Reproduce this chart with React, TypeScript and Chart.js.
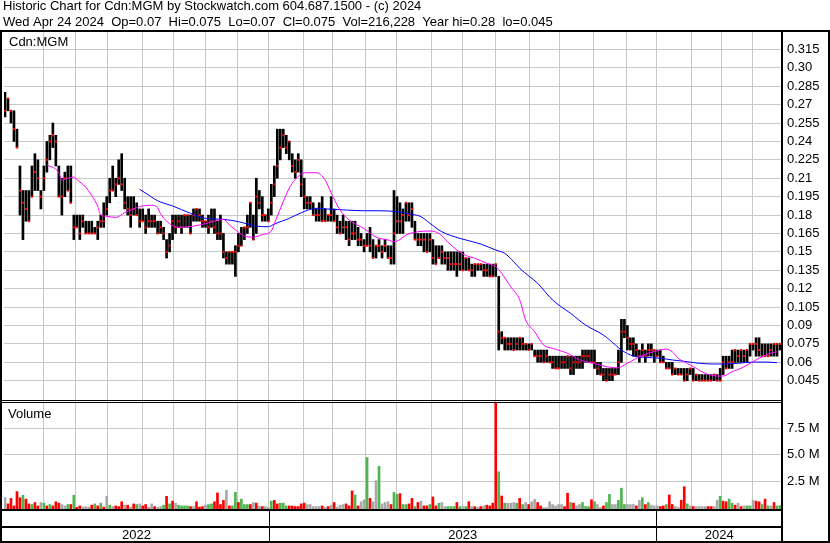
import React, { useEffect, useRef } from 'react';
import { Chart, registerables } from 'chart.js';

Chart.register(...registerables);

const TITLE = 'Historic Chart for Cdn:MGM by Stockwatch.com 604.687.1500 - (c) 2024';
const SUBTITLE = 'Wed Apr 24 2024  Op=0.07  Hi=0.075  Lo=0.07  Cl=0.075  Vol=216,228  Year hi=0.28  lo=0.045';
const SYMBOL = 'Cdn:MGM';
const VOL_TITLE = 'Volume';
const FONT = '"Liberation Sans", Arial, sans-serif';

// one bar per two trading days, late Apr 2022 .. 24 Apr 2024
const HIGH = [
  .28, .275, .265, .265, .25, .22, .20, .20, .20, .22,
  .23, .225, .20, .22, .24, .245, .255, .245, .22, .21,
  .215, .22, .22, .18, .18, .18, .18, .175, .175, .175,
  .17, .175, .18, .19, .195, .21, .22, .21, .225, .23,
  .21, .195, .195, .195, .19, .185, .185, .18, .185, .18,
  .18, .175, .175, .17, .16, .165, .18, .18, .18, .18,
  .18, .18, .18, .185, .185, .185, .18, .175, .18, .185,
  .185, .175, .18, .165, .15, .15, .15, .155, .165, .17,
  .17, .18, .19, .18, .21, .20, .195, .18, .185, .205,
  .22, .25, .25, .25, .245, .24, .23, .225, .23, .225,
  .21, .195, .195, .19, .185, .19, .195, .185, .18, .195,
  .185, .18, .175, .18, .175, .175, .175, .175, .17, .165,
  .16, .165, .17, .16, .155, .16, .155, .16, .155, .155,
  .20, .195, .19, .185, .19, .19, .19, .175, .165, .165,
  .165, .165, .165, .16, .155, .155, .155, .15, .15, .15,
  .15, .15, .15, .15, .145, .145, .14, .14, .14, .14,
  .14, .14, .14, .14, .14, .13, .085, .08, .08, .08,
  .08, .08, .08, .08, .075, .075, .075, .07, .07, .07,
  .07, .07, .065, .065, .065, .065, .065, .065, .065, .065,
  .065, .065, .065, .07, .07, .07, .07, .07, .06, .06,
  .055, .055, .055, .055, .055, .07, .095, .095, .09, .08,
  .08, .075, .07, .075, .07, .075, .075, .07, .07, .07,
  .065, .06, .06, .06, .055, .055, .055, .055, .055, .055,
  .055, .05, .05, .05, .05, .05, .05, .05, .05, .055,
  .065, .065, .065, .07, .07, .07, .07, .07, .07, .075,
  .075, .08, .08, .075, .075, .075, .075, .075, .075, .075,
];
const LOW = [
  .26, .265, .255, .24, .235, .18, .16, .175, .175, .195,
  .20, .20, .185, .20, .215, .225, .235, .22, .195, .18,
  .195, .20, .19, .16, .17, .16, .17, .165, .165, .165,
  .165, .16, .17, .17, .18, .19, .20, .195, .205, .20,
  .185, .18, .17, .18, .18, .17, .175, .165, .17, .17,
  .17, .165, .165, .16, .145, .15, .16, .165, .17, .165,
  .17, .17, .165, .175, .175, .175, .17, .17, .165, .17,
  .165, .16, .16, .145, .14, .14, .14, .13, .15, .155,
  .16, .165, .17, .16, .165, .185, .175, .175, .175, .18,
  .195, .21, .225, .235, .23, .225, .215, .21, .215, .195,
  .185, .185, .185, .18, .175, .175, .175, .175, .175, .175,
  .175, .165, .165, .165, .16, .155, .16, .16, .155, .155,
  .15, .155, .15, .145, .145, .15, .145, .15, .145, .14,
  .14, .165, .165, .165, .175, .175, .17, .16, .155, .155,
  .15, .15, .15, .14, .14, .145, .14, .14, .135, .135,
  .135, .13, .135, .135, .135, .135, .13, .13, .135, .135,
  .13, .13, .13, .13, .13, .07, .075, .07, .07, .07,
  .07, .07, .07, .07, .07, .07, .07, .065, .06, .06,
  .06, .06, .06, .055, .055, .055, .055, .055, .055, .05,
  .05, .055, .055, .055, .06, .06, .06, .055, .05, .05,
  .045, .045, .045, .045, .05, .05, .06, .08, .07, .07,
  .065, .065, .06, .065, .06, .065, .065, .06, .065, .06,
  .06, .055, .055, .05, .05, .05, .05, .045, .045, .05,
  .045, .045, .045, .045, .045, .045, .045, .045, .045, .045,
  .05, .055, .055, .055, .06, .06, .06, .06, .06, .065,
  .07, .065, .065, .065, .065, .065, .065, .065, .065, .07,
];
const CLOSE = [
  .265, .275, .265, .25, .235, .20, .19, .185, .175, .195,
  .215, .21, .195, .21, .225, .24, .245, .24, .195, .195,
  .21, .20, .19, .17, .17, .165, .175, .165, .165, .165,
  .165, .17, .175, .175, .185, .20, .20, .205, .21, .205,
  .19, .185, .18, .185, .18, .175, .175, .17, .175, .175,
  .175, .165, .17, .165, .15, .155, .175, .17, .175, .17,
  .18, .18, .165, .18, .185, .18, .175, .175, .17, .175,
  .17, .165, .165, .15, .145, .15, .15, .15, .155, .155,
  .17, .17, .19, .16, .195, .19, .18, .18, .175, .19,
  .205, .22, .235, .245, .235, .24, .22, .215, .225, .205,
  .195, .19, .19, .18, .18, .18, .175, .175, .18, .18,
  .175, .17, .165, .17, .17, .16, .165, .165, .16, .16,
  .155, .155, .155, .145, .155, .155, .15, .155, .145, .145,
  .165, .175, .175, .18, .19, .18, .185, .16, .16, .16,
  .16, .15, .16, .145, .14, .145, .15, .145, .145, .14,
  .14, .14, .14, .135, .145, .135, .135, .14, .14, .14,
  .135, .135, .13, .13, .14, .085, .08, .08, .075, .075,
  .07, .075, .08, .075, .075, .07, .075, .065, .065, .065,
  .06, .065, .06, .06, .055, .055, .06, .06, .065, .055,
  .06, .06, .06, .065, .065, .065, .06, .06, .055, .05,
  .05, .045, .05, .05, .05, .06, .085, .085, .08, .075,
  .075, .07, .065, .07, .065, .07, .07, .07, .065, .06,
  .06, .055, .055, .05, .055, .05, .05, .045, .05, .055,
  .045, .05, .045, .045, .045, .045, .045, .05, .045, .045,
  .06, .055, .06, .06, .07, .065, .07, .065, .07, .075,
  .075, .075, .07, .065, .065, .065, .07, .075, .075, .075,
];
// volume in millions of shares
const VOLUME = [
  .96, .38, .9, .19, 1.54, .96, 1.19, .83, .38, .32,
  .51, .19, .51, .45, .19, .32, .19, .58, .45, .32,
  .19, .32, .32, 1.19, .06, .19, .1, .13, .08, .26,
  .38, .19, .45, .08, 1.09, .26, .13, .19, .13, .58,
  .26, .26, .08, .38, .32, .38, .19, .32, .08, .38,
  .13, .05, .13, .26, 1.09, .38, .64, .45, .26, .19,
  .19, .19, .13, .13, .58, .08, .13, .26, .32, .38,
  .58, 1.41, .32, .71, 1.67, .19, .19, 1.47, .51, .83,
  .32, .32, .32, .51, .45, .19, .13, .13, .05, .64,
  .71, .38, .45, .45, .19, .19, .19, .13, .13, .38,
  .45, .32, .32, .13, .13, .13, .19, .05, .13, .26,
  .51, .08, .26, .32, .38, .19, 1.6, 1.22, .19, .58,
  .77, 4.74, .9, .58, 2.56, 3.91, .38, .51, .58, .32,
  1.47, 1.28, 1.35, .32, .32, .38, .9, .13, .51, .64,
  .19, .19, .32, 1.03, .19, .45, .51, .13, .13, .13,
  .13, .51, .13, .13, .13, .58, .13, .13, .05, .13,
  .19, .26, .19, .45, 9.94, 3.4, 1.12, .45, .45, .45,
  .51, .45, .9, .32, .51, .32, .58, .8, .51, .19,
  .03, .03, .58, .32, .19, .32, .32, .13, 1.38, .51,
  .45, .19, .32, .51, .13, .13, .77, .58, .32, .05,
  .19, .51, 1.28, .32, .32, .71, 1.86, .32, .32, .32,
  .32, .19, .71, .96, .32, .51, .26, .19, .19, .13,
  .19, .32, 1.22, .32, .13, .05, .71, 2.0, .38, .19,
  .13, .13, .13, .13, .13, .13, .13, .13, .71, 1.09,
  .64, .58, .83, .45, .26, .45, .13, .19, .19, .19,
  .71, .64, .58, .32, .83, .19, .19, .51, .19, .22,
];
// r = down day, g = up day, n = unchanged
const VOL_DIR = (
  'nrrrrrgrrg' + 'rrngrgrrrn' + 'ngrgrrnnnr' + 'grgrngnrrr' + 'nrnrgnrrnn' +
  'rnngrgrngg' + 'ggrnrrrngg' + 'rrrrnrggrg' + 'ggrnrnrnng' + 'rrgggrrrrr' +
  'rnnnnnrnrn' + 'rnnnrrrgrn' + 'ngrnngnnnr' + 'ggrggrrgrn' + 'rrgrrgnngg' +
  'grgngrnrnr' + 'nrrrrgrgnn' + 'ngrgnrnnrr' + 'nnnnnnnrrg' + 'rnngggrgnn' +
  'rggnngggnn' + 'nrngrgnnnr' + 'rgrrnnrrgn' + 'rnnnnrrnng' + 'rrggrnrngg' +
  'nrrgrgnrgg'
).split('');

// short moving average (magenta), sampled at bar positions
const MA1_AT = [14, 18, 19, 21, 23, 24, 27, 29, 31, 32, 34, 37, 40, 43, 45, 49, 51, 52, 55, 58, 63, 67, 70, 73, 75, 78, 80, 83, 86, 89, 90.5, 93, 95, 97, 99, 101, 104, 107, 109, 112, 115, 120, 124, 128, 130, 132, 134, 138, 142, 145, 148, 151, 154, 157, 161, 164, 166, 169, 172, 174, 177, 180, 183, 188, 192, 197, 201, 205, 207, 209, 212, 215, 219, 221, 223, 225, 228, 231, 234, 238, 240, 243, 246, 249, 252, 255, 258];
const MA1_VAL = [.221, .2145, .2086, .21, .211, .209, .2026, .196, .187, .18, .179, .178, .182, .185, .187, .188, .186, .181, .173, .17, .171, .173, .175, .1765, .172, .166, .163, .162, .164, .167, .176, .191, .202, .209, .2135, .2145, .2145, .2086, .198, .184, .176, .169, .162, .1597, .1583, .16, .1637, .1664, .167, .165, .158, .1515, .147, .1448, .1407, .138, .1325, .1216, .111, .0945, .085, .074, .0714, .0673, .062, .059, .0564, .0555, .058, .0605, .0646, .0673, .07, .0708, .0686, .0633, .0592, .0551, .051, .0488, .0488, .0523, .0551, .0592, .0633, .0668, .0686];
// long moving average (blue)
const MA2_AT = [45, 48, 50, 52, 56, 62, 67, 73, 78, 84, 88, 90, 95, 99, 104, 109, 114, 120, 125, 131, 136, 139, 142, 146, 152, 159, 164, 167, 170, 172, 178, 183, 189, 194, 200, 204, 206, 210, 214, 219, 223, 228, 232, 237, 241, 245, 250, 254, 258];
const MA2_VAL = [.201, .1963, .193, .1906, .1874, .1814, .1773, .1765, .1746, .171, .1705, .1727, .1773, .1819, .1855, .1847, .1841, .1835, .1835, .1827, .1806, .1787, .1733, .1664, .161, .1564, .1515, .1488, .142, .1366, .1244, .1108, .0999, .0904, .0822, .0741, .07, .0651, .064, .0633, .0619, .0605, .0592, .0586, .0586, .0592, .0602, .0602, .0597];

// month boundaries, in bar positions
const MONTH_STARTS = [12.9, 23.7, 34.1, 45.8, 56.3, 67.1, 77.8, 88.2, 99.8, 109.6, 120.5, 131.0, 142.6, 152.9, 164.0, 175.4, 185.3, 196.6, 207.7, 217.7, 229.4, 239.6, 249.9];
const YEAR_STARTS = [88.2, 217.7];
const YEARS = ['2022', '2023', '2024'];

const PRICE_TICKS = [0.045, 0.06, 0.075, 0.09, 0.105, 0.12, 0.135, 0.15, 0.165, 0.18, 0.195, 0.21, 0.225, 0.24, 0.255, 0.27, 0.285, 0.30, 0.315];
const PRICE_LABELS = ['0.045', '0.06', '0.075', '0.09', '0.105', '0.12', '0.135', '0.15', '0.165', '0.18', '0.195', '0.21', '0.225', '0.24', '0.255', '0.27', '0.285', '0.30', '0.315'];
const VOL_TICKS = [2.5, 5, 7.5];
const VOL_LABELS = ['2.5 M', '5.0 M', '7.5 M'];

const DIR_COLORS: Record<string, string> = { r: '#ff0000', g: '#50b450', n: '#a8a8a8' };
const GRID = '#c8c8c8';

const framePlugin = {
  id: 'frame',
  beforeDraw(chart: any) {
    const { ctx, width, height } = chart;
    ctx.save();
    ctx.fillStyle = '#ffffff';
    ctx.fillRect(0, 0, width, height);
    ctx.restore();
  },
  afterDraw(chart: any) {
    const { ctx, width, height, chartArea } = chart;
    const xs = chart.scales.x;
    const yv = chart.scales.yv;
    const r = Math.round(chartArea.right) - 1;
    const b = chartArea.bottom;
    ctx.save();
    ctx.fillStyle = '#000';
    ctx.font = `13px ${FONT}`;
    ctx.textAlign = 'left';
    ctx.textBaseline = 'alphabetic';
    ctx.fillText(TITLE, 3, 10);
    ctx.fillText(SUBTITLE, 3, 26);
    // header rule and outer frame
    ctx.fillRect(0, 30, width, 2);
    ctx.fillRect(0, 30, 2, height - 30);
    ctx.fillRect(width - 2, 30, 2, height - 30);
    ctx.fillRect(0, height - 2, width, 2);
    // panel separator (double line)
    const sep = Math.round(yv.top);
    ctx.fillRect(0, sep - 1, r, 1);
    ctx.fillRect(0, sep + 1, r, 1);
    // axis line
    ctx.fillRect(r, 30, 2, height - 30);
    // date band
    ctx.fillRect(0, b, r, 2);
    ctx.fillRect(0, b + 17, r, 2);
    YEAR_STARTS.forEach((v) => {
      const px = Math.round(xs.getPixelForValue(v));
      ctx.fillRect(px, b, 1, height - b);
    });
    const bounds = [xs.min, ...YEAR_STARTS, xs.max];
    ctx.textAlign = 'center';
    YEARS.forEach((label, k) => {
      const a = xs.getPixelForValue(bounds[k]);
      const c = xs.getPixelForValue(bounds[k + 1]);
      ctx.fillText(label, (a + c) / 2, height - 4);
    });
    ctx.textAlign = 'left';
    ctx.fillText(SYMBOL, 9, chartArea.top + 14);
    ctx.fillText(VOL_TITLE, 8, sep + 17);
    ctx.restore();
  },
};

export default function App() {
  const ref = useRef<HTMLCanvasElement | null>(null);
  useEffect(() => {
    const canvas = ref.current;
    if (!canvas) return;
    const idx = HIGH.map((_, i) => i);
    const chart = new Chart(canvas, {
      type: 'bar',
      data: {
        datasets: [
          {
            type: 'line',
            data: MA1_AT.map((x, k) => ({ x, y: MA1_VAL[k] })),
            yAxisID: 'y',
            borderColor: '#ff00ff',
            borderWidth: 1,
            pointRadius: 0,
            cubicInterpolationMode: 'monotone',
          } as any,
          {
            type: 'line',
            data: MA2_AT.map((x, k) => ({ x, y: MA2_VAL[k] })),
            yAxisID: 'y',
            borderColor: '#0000ff',
            borderWidth: 1,
            pointRadius: 0,
            cubicInterpolationMode: 'monotone',
          } as any,
          {
            type: 'line',
            data: idx.map((i) => ({ x: i, y: CLOSE[i] })),
            yAxisID: 'y',
            showLine: false,
            pointStyle: 'rect',
            pointRadius: 1.42,
            pointBorderWidth: 0,
            pointBackgroundColor: '#ff0000',
            borderColor: '#ff0000',
          } as any,
          {
            type: 'bar',
            data: idx.map((i) => ({ x: i, y: [LOW[i], HIGH[i]] })),
            yAxisID: 'y',
            backgroundColor: '#000000',
            barThickness: 2,
            grouped: false,
            borderWidth: 0,
          } as any,
          {
            type: 'bar',
            data: idx.map((i) => ({ x: i, y: VOLUME[i] })),
            yAxisID: 'yv',
            backgroundColor: VOL_DIR.map((d) => DIR_COLORS[d]),
            barThickness: 2,
            grouped: false,
            borderWidth: 0,
            base: -0.1,
          } as any,
        ],
      },
      options: {
        animation: false,
        responsive: false,
        devicePixelRatio: 1,
        events: [],
        layout: { padding: { top: 32, left: 2, right: 0, bottom: 34 } },
        plugins: { legend: { display: false }, tooltip: { enabled: false } },
        scales: {
          x: {
            type: 'linear',
            min: -1 / 3,
            max: HIGH.length - 1 / 3,
            offset: false,
            ticks: { display: false },
            grid: { color: GRID, drawTicks: false, offset: false },
            border: { display: false },
            afterBuildTicks: (s: any) => { s.ticks = MONTH_STARTS.map((v) => ({ value: v })); },
            afterFit: (s: any) => { s.height = 0; },
          },
          y: {
            type: 'linear',
            position: 'right',
            stack: 'panels',
            stackWeight: 369,
            min: 0.02846,
            max: 0.32919,
            ticks: {
              autoSkip: false,
              color: '#000',
              padding: 5,
              font: { size: 13, family: FONT },
              callback: (_v: any, i: number) => PRICE_LABELS[i],
            },
            grid: { color: GRID, drawTicks: false },
            border: { display: false },
            afterBuildTicks: (s: any) => { s.ticks = PRICE_TICKS.map((v) => ({ value: v })); },
            afterFit: (s: any) => { s.width = 48; },
          },
          yv: {
            type: 'linear',
            position: 'right',
            stack: 'panels',
            stackWeight: 108,
            min: -0.1,
            max: 10.06,
            ticks: {
              autoSkip: false,
              color: '#000',
              padding: 5,
              font: { size: 13, family: FONT },
              callback: (_v: any, i: number) => VOL_LABELS[i],
            },
            grid: { color: GRID, drawTicks: false },
            border: { display: false },
            afterBuildTicks: (s: any) => { s.ticks = VOL_TICKS.map((v) => ({ value: v })); },
            afterFit: (s: any) => { s.width = 48; },
          },
        } as any,
      },
      plugins: [framePlugin],
    } as any);
    return () => chart.destroy();
  }, []);
  return (
    <div style={{ position: 'absolute', left: 0, top: 0, width: 830, height: 543 }}>
      <canvas ref={ref} width={830} height={543} style={{ display: 'block' }} />
    </div>
  );
}
